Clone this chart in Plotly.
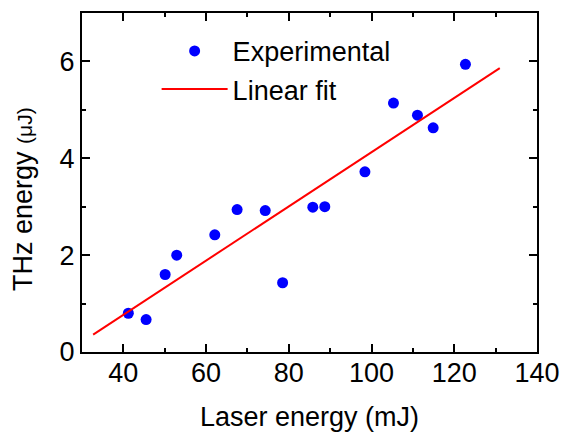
import plotly.graph_objects as go

# Experimental data
laser_mj = [41.2, 45.5, 50.1, 52.9, 62.1, 67.5, 74.3, 78.5, 85.8, 88.7, 98.4, 105.3, 111.1, 114.9, 122.7]
thz_uj = [0.80, 0.67, 1.60, 2.00, 2.42, 2.94, 2.92, 1.43, 2.99, 3.00, 3.72, 5.14, 4.89, 4.63, 5.94]

# Linear fit endpoints
fit_x = [32.7, 131.0]
fit_y = [0.36, 5.86]

FONT = "Arial"
FS = 27

fig = go.Figure()
fig.add_trace(go.Scatter(
    x=laser_mj, y=thz_uj, mode="markers", name="Experimental",
    marker=dict(color="#0000FF", size=11, line=dict(width=0)),
))
fig.add_trace(go.Scatter(
    x=fit_x, y=fit_y, mode="lines", name="Linear fit",
    line=dict(color="#FF0000", width=2),
))

axis_common = dict(
    showline=True, linecolor="black", linewidth=2, mirror="ticks",
    ticks="inside", ticklen=8, tickwidth=1.5, tickcolor="black",
    showgrid=False, zeroline=False,
    tickfont=dict(family=FONT, size=FS, color="black"),
)

fig.update_xaxes(
    range=[30, 140], tick0=40, dtick=20,
    minor=dict(dtick=10, ticks="inside", ticklen=4, tickwidth=1.5, tickcolor="black"),
    title=dict(text="Laser energy (mJ)", font=dict(family=FONT, size=FS, color="black"), standoff=20),
    ticklabelstandoff=-4,
    **axis_common,
)
fig.update_yaxes(
    range=[0, 7], tick0=0, dtick=2,
    minor=dict(dtick=1, ticks="inside", ticklen=4, tickwidth=1.5, tickcolor="black"),
    **axis_common,
)

fig.add_annotation(
    text="THz energy <span style='font-size:21px'>(μJ)</span>",
    xref="paper", yref="paper", x=-0.13, y=0.451,
    textangle=-90, showarrow=False, xanchor="center", yanchor="middle",
    font=dict(family=FONT, size=FS, color="black"),
)

fig.update_layout(
    width=571, height=439,
    margin=dict(l=82, r=25.5, t=11, b=86.5),
    plot_bgcolor="white", paper_bgcolor="white",
    showlegend=True,
    legend=dict(
        x=0.164, y=0.959, xanchor="left", yanchor="top",
        bgcolor="rgba(0,0,0,0)", borderwidth=0,
        font=dict(family=FONT, size=FS, color="black"),
        itemwidth=66, tracegroupgap=0,
    ),
)

fig.write_html("out.html")
